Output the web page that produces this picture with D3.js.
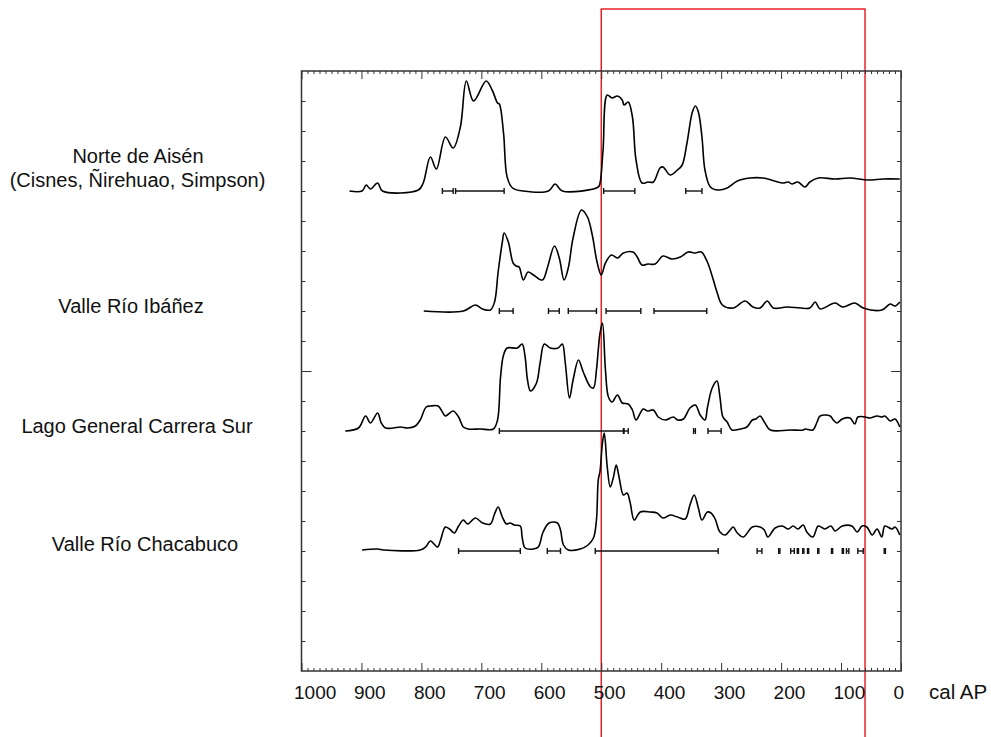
<!DOCTYPE html>
<html>
<head>
<meta charset="utf-8">
<script src="https://cdn.jsdelivr.net/npm/d3@7/dist/d3.min.js"></script>
<style>
  html, body { margin: 0; padding: 0; background: #fff; }
  svg { display: block; }
  text { font-family: "Liberation Sans", Arial, sans-serif; fill: #111; }
</style>
</head>
<body>
<svg id="chart" width="991" height="737"></svg>
<script>
// ---------- DATA ----------
const regions = ["Norte de Aisén", "Valle Río Ibáñez", "Lago General Carrera Sur", "Valle Río Chacabuco"];
const regionSub = ["(Cisnes, Ñirehuao, Simpson)", "", "", ""];
const regionOffsets = [1.6, 1.2, 0.8, 0.4];   // vertical stacking offset (axis units)
const xTickLabels = [1000, 900, 800, 700, 600, 500, 400, 300, 200, 100, 0];
const xUnit = "cal AP";
const highlightPeriod = [500, 60];            // cal AP, red box

// summed probability curves: [cal AP, relative probability (arbitrary units)]
const norteAisen = [
  [920,0],[899,0],[892,6],[885,2],[873,8],[865,0],[805,1],[797,8],[785,34],[775,22],[760,54],[747,43],
  [735,64],[725,110],[713,90],[692,110],[682,101],[673,88],[670,87],[663,58],[657,14],[648,3],[630,0],
  [588,0],[577,7],[565,0],[505,4],[502,8],[497,41],[490,96],[482,93],[473,95],[465,91],[462,86],[455,89],
  [448,74],[442,31],[432,8],[422,9],[413,9],[402,23],[397,24],[385,16],[373,21],[365,26],[357,48],[348,79],
  [343,85],[338,79],[332,54],[327,21],[318,4],[305,1],[290,3],[273,10],[252,13],[230,13],[198,8],[188,9],
  [182,7],[172,9],[160,4],[152,9],[138,13],[110,12],[85,13],[55,11],[30,12],[2,12]
];
const valleIbanez = [
  [796,0],[730,0],[710,6],[698,2],[685,1],[678,9],[672,39],[665,69],[662,78],[655,69],[647,48],[642,45],
  [637,44],[630,31],[622,39],[613,36],[598,31],[590,43],[578,65],[570,53],[562,31],[555,43],[547,73],
  [533,101],[523,94],[515,76],[507,49],[500,36],[493,48],[483,56],[473,53],[463,58],[447,59],[440,54],
  [432,46],[422,47],[410,47],[397,55],[382,52],[368,54],[355,59],[343,58],[333,59],[323,49],[313,31],
  [307,19],[298,6],[280,3],[260,10],[247,4],[235,3],[223,10],[213,3],[190,4],[168,3],[152,3],[143,9],
  [135,2],[110,8],[97,4],[77,8],[63,3],[32,1],[18,7],[10,5],[2,9]
];
const lagoGeneralCarrera = [
  [927,0],[905,3],[893,15],[885,8],[873,18],[867,8],[860,3],[847,3],[835,4],[823,3],[810,5],[802,11],
  [792,24],[785,25],[772,25],[765,19],[760,15],[747,20],[738,14],[730,4],[722,2],[702,2],[680,2],[673,11],
  [668,54],[663,76],[657,83],[640,83],[632,87],[627,74],[623,51],[618,40],[608,48],[602,68],[595,87],
  [585,83],[572,83],[565,87],[560,68],[553,33],[547,51],[538,71],[530,59],[518,44],[513,43],[508,61],
  [505,81],[502,98],[498,108],[493,61],[488,34],[482,29],[473,36],[465,28],[455,27],[448,21],[442,11],
  [430,22],[423,20],[413,21],[405,14],[393,11],[380,14],[372,11],[363,12],[352,23],[343,26],[335,16],
  [327,11],[323,23],[315,43],[307,50],[302,34],[297,14],[290,9],[282,1],[268,2],[257,4],[248,11],[242,12],
  [235,15],[228,9],[218,1],[185,1],[163,1],[160,2],[147,1],[140,9],[135,15],[118,15],[113,11],[107,8],
  [98,12],[85,13],[77,7],[72,14],[60,14],[52,13],[40,15],[32,14],[27,15],[18,10],[10,12],[2,4]
];
const valleChacabuco = [
  [899,1],[873,2],[863,1],[802,1],[793,4],[785,10],[773,4],[768,11],[760,24],[753,22],[745,18],[738,25],
  [730,31],[723,27],[710,33],[698,28],[685,27],[678,37],[672,44],[665,34],[658,27],[652,28],[645,26],
  [635,25],[632,14],[627,3],[613,2],[605,4],[597,19],[587,28],[573,28],[568,21],[563,6],[555,1],[535,2],
  [522,6],[513,13],[508,31],[505,71],[502,80],[498,108],[495,118],[490,84],[485,64],[480,73],[475,86],
  [470,73],[463,56],[457,58],[452,49],[445,31],[435,39],[418,39],[407,38],[397,33],[385,36],[373,34],
  [360,32],[352,46],[345,56],[338,43],[332,31],[323,39],[317,38],[310,32],[302,19],[293,16],[285,21],
  [280,24],[273,18],[263,14],[248,24],[235,24],[228,21],[222,14],[210,23],[198,25],[188,22],[180,25],
  [172,22],[163,26],[157,19],[147,14],[138,25],[127,22],[117,25],[110,20],[98,25],[82,25],[73,19],
  [65,25],[57,24],[48,16],[40,22],[32,14],[27,25],[15,22],[10,24],[2,16]
];
const curves = [norteAisen, valleIbanez, lagoGeneralCarrera, valleChacabuco];

// calibrated 2-sigma ranges per region: [from, to] cal AP
const norteRanges = [[765,747],[743,662],[496,444],[359,332]];
const ibanezRanges = [[670,647],[588,570],[555,508],[492,434],[412,324]];
const lagoRanges = [[670,463],[462,455],[346,343],[322,300]];
const chacabucoRanges = [[738,635],[590,568],[510,305],[240,232],[204,202],[184,178],[173,171],
  [164,162],[156,154],[139,137],[116,114],[98,96],[91,87],[72,63],[28,26]];
const ranges = [norteRanges, ibanezRanges, lagoRanges, chacabucoRanges];

// ---------- CHART ----------
const svg = d3.select("#chart");
const x = d3.scaleLinear().domain([1000, 0]).range([301.5, 901]);
const y = d3.scaleLinear().domain([0, 2]).range([671, 71]);
const densityUnitsPerAxis = 300;   // arbitrary probability units per axis unit

// red highlight box
svg.append("rect")
  .attr("x", x(highlightPeriod[0])).attr("y", 9)
  .attr("width", x(highlightPeriod[1]) - x(highlightPeriod[0]))
  .attr("height", 760)
  .attr("fill", "none").attr("stroke", "#e8141c").attr("stroke-width", 1.4);

// axes ticks (inward)
function ticks(axis, transform) {
  const g = svg.append("g").attr("transform", transform).call(axis);
  g.select(".domain").remove();
  g.selectAll("line").attr("stroke", "#333").attr("stroke-width", 1);
  return g;
}
const minorX = d3.range(0, 1001, 10).filter(d => d % 100 !== 0);
const majorX = d3.range(0, 1001, 100);
ticks(d3.axisBottom(x).tickValues(minorX).tickSize(-3).tickFormat(""), `translate(0,${y(0)})`);
ticks(d3.axisBottom(x).tickValues(majorX).tickSize(-8).tickFormat(""), `translate(0,${y(0)})`);
ticks(d3.axisTop(x).tickValues(minorX).tickSize(-3).tickFormat(""), `translate(0,${y(2)})`);
ticks(d3.axisTop(x).tickValues(majorX).tickSize(-8).tickFormat(""), `translate(0,${y(2)})`);
const minorY = d3.range(1, 20).map(d => d / 10).filter(d => d !== 1);
ticks(d3.axisLeft(y).tickValues(minorY).tickSize(-4).tickFormat(""), `translate(${x(1000)},0)`);
ticks(d3.axisLeft(y).tickValues([1]).tickSize(-10).tickFormat(""), `translate(${x(1000)},0)`);
ticks(d3.axisRight(y).tickValues(minorY).tickSize(-4).tickFormat(""), `translate(${x(0)},0)`);
ticks(d3.axisRight(y).tickValues([1]).tickSize(-10).tickFormat(""), `translate(${x(0)},0)`);

// frame
svg.append("rect")
  .attr("x", x(1000)).attr("y", y(2))
  .attr("width", x(0) - x(1000)).attr("height", y(0) - y(2))
  .attr("fill", "none").attr("stroke", "#333").attr("stroke-width", 1.5);

// x tick labels
svg.append("g").selectAll("text").data(xTickLabels).join("text")
  .attr("x", d => x(d) - 7.5).attr("y", 699)
  .attr("font-size", 19).attr("text-anchor", "start")
  .text(d => d);
svg.append("text").attr("x", 929).attr("y", 699).attr("font-size", 20.5).text(xUnit);

// curves
const line = d3.line().curve(d3.curveCatmullRom.alpha(0.5));
curves.forEach((data, i) => {
  const off = regionOffsets[i];
  svg.append("path")
    .attr("d", line(data.map(([yr, v]) => [x(yr), y(off + v / densityUnitsPerAxis)])))
    .attr("fill", "none").attr("stroke", "#000").attr("stroke-width", 1.6)
    .attr("stroke-linejoin", "round");
});

// error bars
ranges.forEach((rs, i) => {
  const by = y(regionOffsets[i]);
  const g = svg.append("g").attr("stroke", "#111").attr("stroke-width", 1.4);
  rs.forEach(([a, b]) => {
    g.append("line").attr("x1", x(a)).attr("x2", x(b)).attr("y1", by).attr("y2", by);
    g.append("line").attr("x1", x(a)).attr("x2", x(a)).attr("y1", by - 3).attr("y2", by + 3);
    g.append("line").attr("x1", x(b)).attr("x2", x(b)).attr("y1", by - 3).attr("y2", by + 3);
  });
});

// region labels
const labelPos = [[138, 163], [131, 313], [137, 433], [145, 551]];
regions.forEach((name, i) => {
  svg.append("text").attr("x", labelPos[i][0]).attr("y", labelPos[i][1])
    .attr("font-size", 20).attr("text-anchor", "middle").text(name);
  if (regionSub[i]) {
    svg.append("text").attr("x", 137.5).attr("y", labelPos[i][1] + 24)
      .attr("font-size", 20).attr("text-anchor", "middle").text(regionSub[i]);
  }
});
</script>
</body>
</html>
